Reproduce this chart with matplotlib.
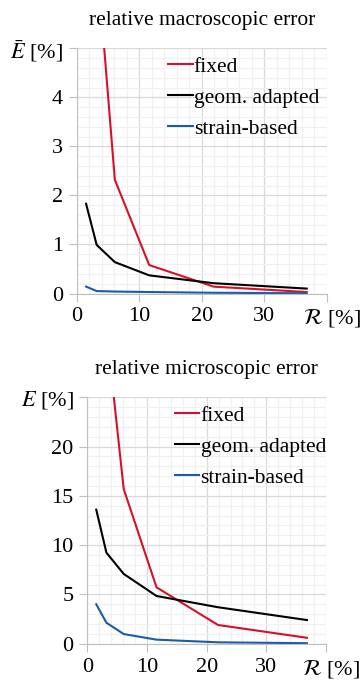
import numpy as np
import matplotlib
matplotlib.use("Agg")
from matplotlib import pyplot as plt
from matplotlib.ticker import MultipleLocator
from matplotlib.transforms import ScaledTranslation

plt.rcParams['font.family'] = ['Liberation Serif', 'DejaVu Serif']
plt.rcParams['mathtext.fontset'] = 'stix'

# reduction ratio R [%]
r_vals = [1.5, 3.2, 6.1, 11.6, 21.9, 36.8]

# relative macroscopic error [%]
macro_fixed = [15.0, 6.9, 2.32, 0.58, 0.14, 0.03]
macro_geom = [1.83, 0.99, 0.64, 0.37, 0.21, 0.10]
macro_strain = [0.14, 0.05, 0.04, 0.03, 0.015, 0.005]

# relative microscopic error [%]
micro_fixed = [60.0, 32.0, 15.7, 5.72, 1.9, 0.6]
micro_geom = [13.6, 9.24, 7.08, 4.84, 3.7, 2.4]
micro_strain = [4.0, 2.13, 0.98, 0.41, 0.14, 0.05]

labels = ["fixed", "geom. adapted", "strain-based"]
colors = ["#d7102a", "black", "#1a5ca8"]

W, H = 361, 682
fig = plt.figure(figsize=(W / 100, H / 100), dpi=100)
ax1 = fig.add_axes([76.7 / W, 1 - 293.5 / H, 250 / W, 245.2 / H])
ax2 = fig.add_axes([87.3 / W, 1 - 643.7 / H, 238.7 / W, 246.4 / H])


def style(ax, ymax, ymajor, yminor, ylab, title):
    ax.set_xlim(0, 40)
    ax.set_ylim(0, ymax)
    ax.xaxis.set_minor_locator(MultipleLocator(2))
    ax.yaxis.set_minor_locator(MultipleLocator(yminor))
    ax.set_xticks([0, 10, 20, 30, 40])
    ax.set_xticklabels(["0", "10", "20", "30", r"$\mathcal{R}$ [%]"])
    yt = np.arange(0, ymax + ymajor / 2, ymajor)
    ax.set_yticks(yt)
    ax.set_yticklabels([str(int(v)) for v in yt[:-1]] + [ylab])
    ax.grid(which="major", color="#d9d9d9", lw=0.9)
    ax.grid(which="minor", color="#f0f0f0", lw=0.9)
    ax.set_axisbelow(True)
    for s in ["top", "right"]:
        ax.spines[s].set_visible(False)
    for s in ["left", "bottom"]:
        ax.spines[s].set_color("#bfbfbf")
    ax.tick_params(which="major", length=6, color="#bfbfbf", labelsize=16, pad=4)
    ax.tick_params(which="minor", length=0)
    # nudge the R [%] label a little to the right
    lab = ax.get_xticklabels()[-1]
    lab.set_transform(lab.get_transform() + ScaledTranslation(5 / 100, 0, fig.dpi_scale_trans))
    ax.set_title(title, fontsize=15.5, pad=17)
    ax.legend(loc="upper left", bbox_to_anchor=(0.33, 1.0), frameon=False,
              fontsize=15.5, handlelength=1.15, handletextpad=0.05,
              labelspacing=0.5, borderaxespad=0)


for ax, data in [(ax1, [macro_fixed, macro_geom, macro_strain]),
                 (ax2, [micro_fixed, micro_geom, micro_strain])]:
    for vals, lab, col in zip(data, labels, colors):
        ax.plot(r_vals, vals, color=col, lw=1.5, label=lab)

style(ax1, 5, 1, 0.2, r"$\bar{E}$ [%]", "relative macroscopic error")
style(ax2, 25, 5, 1, r"$E$ [%]", "relative microscopic error")

fig.savefig("out.png", dpi=100)
